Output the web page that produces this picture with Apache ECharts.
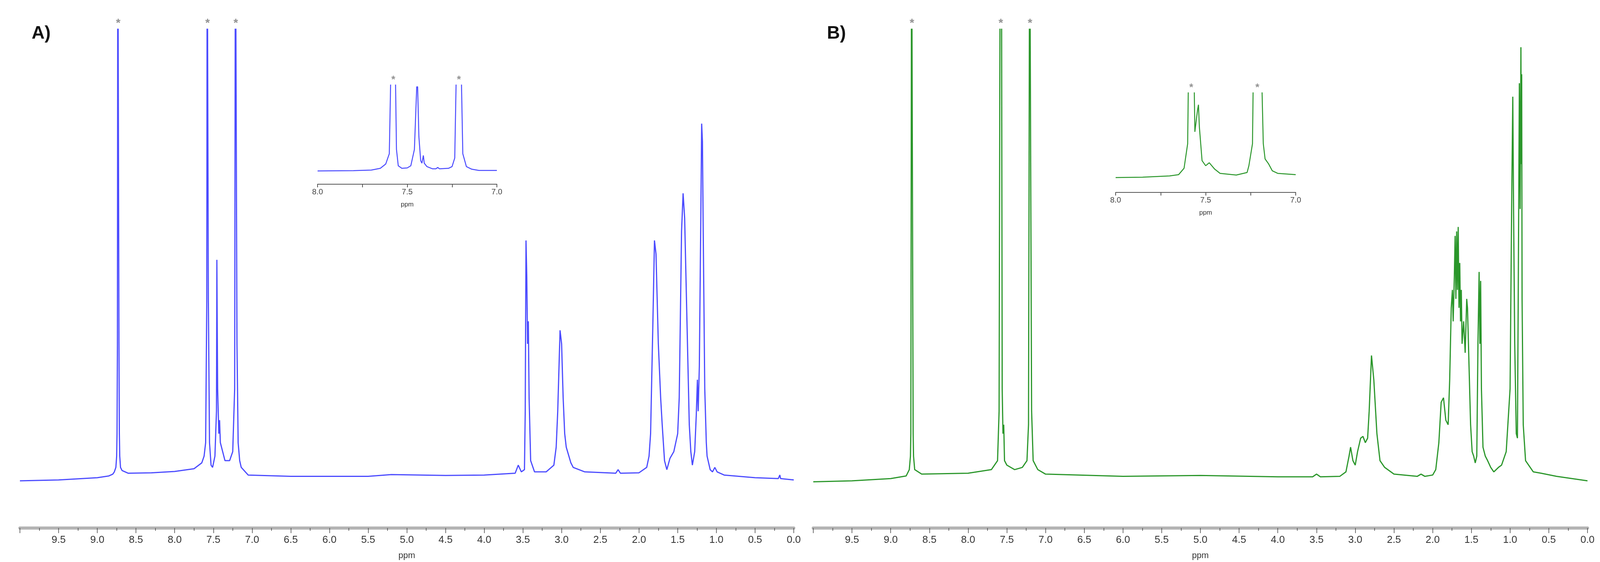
<!DOCTYPE html>
<html><head><meta charset="utf-8">
<script src="https://cdn.jsdelivr.net/npm/echarts@6/dist/echarts.min.js"></script>
<style>html,body{margin:0;padding:0;background:#fff}#c{width:4100px;height:1440px}</style>
</head><body><div id="c"></div>
<script>
// Spectrum A (main), [ppm, relative intensity]; values >100 are off-scale (clipped)
const specA = [[10,-0.5],[9.5,-0.3],[9.0,0.2],[8.85,0.6],[8.8,1],[8.78,1.5],[8.76,2.5],[8.75,5],[8.745,10],[8.74,30],[8.735,130],[8.725,130],[8.72,30],[8.715,10],[8.71,5],[8.7,2.5],[8.68,1.8],[8.6,1.2],[8.3,1.3],[8.0,1.6],[7.75,2.2],[7.65,3.5],[7.62,5],[7.6,8],[7.585,40],[7.58,130],[7.57,130],[7.565,40],[7.55,8],[7.53,3],[7.51,2.5],[7.48,5],[7.46,15],[7.455,48.7],[7.45,48.7],[7.445,20],[7.43,10],[7.42,13],[7.41,8],[7.35,4],[7.29,4],[7.25,6],[7.225,20],[7.215,130],[7.205,130],[7.195,30],[7.18,8],[7.16,4],[7.14,2.5],[7.05,0.8],[6.5,0.5],[5.5,0.5],[5.2,0.9],[4.5,0.7],[4.0,0.8],[3.6,1.2],[3.56,3],[3.52,1.5],[3.48,2],[3.47,15],[3.46,53],[3.45,45],[3.44,30],[3.43,35],[3.42,18],[3.4,4],[3.35,1.5],[3.2,1.5],[3.1,3],[3.07,7],[3.05,15],[3.02,33],[3.0,30],[2.98,18],[2.96,10],[2.94,7],[2.88,3.5],[2.85,2.5],[2.7,1.5],[2.3,1.2],[2.27,2],[2.24,1.2],[2.0,1.3],[1.9,2.5],[1.87,5],[1.85,10],[1.82,35],[1.8,53],[1.78,50],[1.75,30],[1.72,18],[1.7,12],[1.67,4],[1.64,2],[1.6,4.5],[1.55,6],[1.5,10],[1.48,18],[1.47,30],[1.45,55],[1.43,63.5],[1.41,58],[1.38,35],[1.35,12],[1.33,6],[1.31,3],[1.28,6],[1.26,14],[1.245,22],[1.235,15],[1.22,25],[1.2,60],[1.19,79],[1.18,75],[1.17,55],[1.15,20],[1.13,8],[1.12,5],[1.08,2],[1.05,1.5],[1.02,2.5],[0.99,1.5],[0.9,0.8],[0.5,0.2],[0.2,0],[0.18,0.8],[0.17,0],[0,-0.3]];
// Spectrum B (main)
const specB = [[10,-0.7],[9.5,-0.5],[9.0,0],[8.8,0.6],[8.76,2],[8.745,5],[8.74,10],[8.73,130],[8.72,130],[8.71,10],[8.705,5],[8.69,2],[8.6,1],[8.0,1.2],[7.7,2],[7.62,4],[7.6,15],[7.585,130],[7.57,130],[7.56,20],[7.55,10],[7.54,12],[7.53,4],[7.5,3],[7.4,2],[7.3,2.5],[7.24,4],[7.22,12],[7.205,130],[7.195,130],[7.18,15],[7.16,4],[7.1,2],[7.0,1],[6.0,0.5],[5.0,0.7],[4.0,0.4],[3.55,0.4],[3.5,1.0],[3.45,0.4],[3.2,0.5],[3.12,1.5],[3.08,5],[3.06,7],[3.03,4],[3.0,3],[2.97,6],[2.93,9],[2.9,9.4],[2.87,8],[2.84,9],[2.82,15],[2.79,27.4],[2.76,22],[2.72,10],[2.68,4],[2.62,2.5],[2.5,1],[2.2,0.5],[2.15,1],[2.1,0.5],[2.0,0.8],[1.96,2],[1.92,8],[1.89,17],[1.86,18],[1.83,13],[1.80,12],[1.78,22],[1.76,38],[1.745,42],[1.735,35],[1.72,45],[1.71,54],[1.70,40],[1.69,55],[1.68,42],[1.67,56],[1.66,38],[1.65,48],[1.64,35],[1.63,42],[1.62,30],[1.6,35],[1.58,28],[1.56,40],[1.55,38],[1.53,25],[1.51,12],[1.49,6],[1.47,5],[1.45,3.5],[1.43,5],[1.415,30],[1.40,46],[1.39,30],[1.38,44],[1.37,20],[1.35,7],[1.32,5],[1.29,4],[1.25,2.5],[1.21,1.5],[1.15,2.5],[1.11,3],[1.05,6],[1.0,20],[0.98,60],[0.965,85],[0.955,60],[0.94,30],[0.92,10],[0.905,9],[0.895,40],[0.88,88],[0.87,60],[0.86,96],[0.855,70],[0.85,90],[0.845,40],[0.83,12],[0.8,4],[0.7,1.5],[0.6,1.2],[0.4,0.5],[0,-0.5]];
// Insets (8.0 - 7.0 ppm)
const insetA = [[8.0,0],[7.8,0.3],[7.7,1],[7.65,3],[7.62,8],[7.6,20],[7.59,130],[7.567,130],[7.56,25],[7.55,6],[7.53,3],[7.5,3.5],[7.48,6],[7.46,25],[7.447,98],[7.442,98],[7.435,40],[7.425,12],[7.418,9],[7.41,18],[7.405,9],[7.39,5],[7.36,2.5],[7.34,2.5],[7.33,4],[7.32,2.5],[7.27,3],[7.25,5],[7.235,15],[7.225,130],[7.2,130],[7.19,20],[7.17,5],[7.14,2],[7.1,0.5],[7.0,0.5]];
const insetB = [[8.0,0],[7.85,0.5],[7.7,2],[7.65,3.5],[7.62,11],[7.6,40],[7.595,130],[7.565,130],[7.56,54],[7.545,80],[7.54,86],[7.535,60],[7.52,20],[7.5,14],[7.48,17.5],[7.45,10],[7.42,5],[7.33,3],[7.27,6],[7.26,14],[7.24,40],[7.235,130],[7.19,130],[7.18,40],[7.17,22],[7.15,16],[7.13,8],[7.1,5],[7.0,3.5]];
// Starred (reference/solvent) peaks
const starsA = [8.73, 7.575, 7.21];
const starsB = [8.725, 7.578, 7.2];
const starsInA = [7.578, 7.212];
const starsInB = [7.58, 7.213];
const panelLabels = ['A)', 'B)'];
const axisName = 'ppm';

const blue = '#4a4aff', green = '#2a962a';
const chart = echarts.init(document.getElementById('c'));
const font = '"Liberation Sans Narrow","Liberation Sans",sans-serif';

function mainX(gi){return {gridIndex:gi,type:'value',min:0,max:10,inverse:true,interval:0.5,
  axisLine:{show:true,onZero:false,lineStyle:{color:'#b4b4b4',width:8}},
  axisTick:{show:true,length:13,lineStyle:{color:'#444',width:1.5}},
  minorTick:{show:true,splitNumber:2,length:7,lineStyle:{color:'#444',width:1.5}},
  splitLine:{show:false},
  axisLabel:{margin:18,fontSize:26,color:'#333',fontFamily:font,
    formatter:v=>v>=10?'':v.toFixed(1)},
  name:axisName,nameLocation:'middle',nameGap:60,nameTextStyle:{fontSize:22,color:'#333',fontFamily:font}};}
function insetX(gi){return {gridIndex:gi,type:'value',min:7,max:8,inverse:true,interval:0.25,
  axisLine:{show:true,onZero:false,lineStyle:{color:'#555',width:2}},
  axisTick:{show:true,length:8,lineStyle:{color:'#555',width:2}},
  splitLine:{show:false},
  axisLabel:{margin:10,fontSize:20,color:'#444',fontFamily:font,showMinLabel:true,showMaxLabel:true,
    formatter:v=>(Math.abs(v*2-Math.round(v*2))<1e-6)?v.toFixed(1):''},
  name:axisName,nameLocation:'middle',nameGap:44,nameTextStyle:{fontSize:17,color:'#333',fontFamily:font}};}
function yAx(gi,min){return {gridIndex:gi,type:'value',min:min,max:100,show:false};}
function line(data,gi,color,w){return {type:'line',xAxisIndex:gi,yAxisIndex:gi,data:data,symbol:'none',clip:true,
  lineStyle:{color:color,width:w},silent:true};}
function stars(arr,gi,size){return {type:'scatter',xAxisIndex:gi,yAxisIndex:gi,data:arr.map(p=>[p,100]),symbolSize:1,
  itemStyle:{color:'rgba(0,0,0,0)'},clip:false,silent:true,
  label:{show:true,position:'top',distance:0,formatter:'*',fontSize:size,fontWeight:'bold',color:'#777'}};}

chart.setOption({
  animation:false,
  title:[
    {text:panelLabels[0],left:76,top:58,textStyle:{fontSize:46,fontWeight:'bold',color:'#111',fontFamily:'"Liberation Sans",sans-serif'}},
    {text:panelLabels[1],left:2112,top:58,textStyle:{fontSize:46,fontWeight:'bold',color:'#111',fontFamily:'"Liberation Sans",sans-serif'}}
  ],
  grid:[
    {left:51,right:2068,top:75,bottom:85},
    {left:2082,right:36,top:75,bottom:85},
    {left:813,right:2828,top:218,bottom:968},
    {left:2856,right:783,top:238,bottom:947}
  ],
  xAxis:[mainX(0),mainX(1),insetX(2),insetX(3)],
  yAxis:[yAx(0,-11),yAx(1,-11),yAx(2,-15.5),yAx(3,-17.5)],
  series:[
    line(specA,0,blue,3),line(specB,1,green,3),
    line(insetA,2,blue,2.5),line(insetB,3,green,2.5),
    stars(starsA,0,30),stars(starsB,1,30),stars(starsInA,2,26),stars(starsInB,3,26)
  ]
});
</script></body></html>
